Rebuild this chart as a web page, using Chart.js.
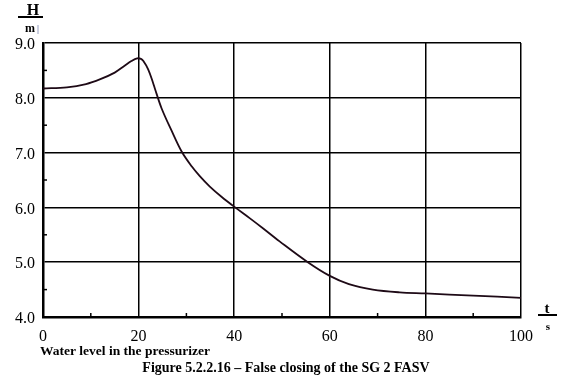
<!DOCTYPE html>
<html><head><meta charset="utf-8">
<script src="https://cdn.jsdelivr.net/npm/chart.js@4"></script>
<style>html,body{margin:0;padding:0;background:#fff;overflow:hidden}#wrap{width:573px;height:386px;position:relative}</style>
</head><body><div id="wrap"><canvas id="c" width="573" height="386"></canvas></div>
<script>
const timeS  = [0, 5, 9, 12, 15, 17, 18.5, 19.7, 20.5, 21, 22, 23, 23.4, 24.8, 26.9, 29, 31.1, 32.8, 34.9, 37.4, 40.2, 43.3, 46, 49.5, 55.4, 60, 64, 69, 74.6, 80, 90, 100];
const levelM = [8.17, 8.19, 8.25, 8.34, 8.46, 8.58, 8.67, 8.72, 8.71, 8.67, 8.52, 8.28, 8.17, 7.81, 7.40, 7.02, 6.75, 6.57, 6.38, 6.19, 6.0, 5.80, 5.62, 5.38, 5.0, 4.75, 4.6, 4.5, 4.45, 4.43, 4.39, 4.35];
const xTicks = [0, 20, 40, 60, 80, 100];
const yTicks = [4, 5, 6, 7, 8, 9];
const xMinor = [10, 30, 50, 70, 90];
const yMinor = [4.5, 5.5, 6.5, 7.5, 8.5];
const yLabel = 'H', yUnit = 'm', xLabel = 't', xUnit = 's';
const subTitle = 'Water level in the pressurizer';
const caption = 'Figure 5.2.2.16 \u2013 False closing of the SG 2 FASV';

const SERIF = '"Liberation Serif", "Times New Roman", serif';

const decor = {
  id: 'decor',
  afterDraw(chart) {
    const ctx = chart.ctx, xs = chart.scales.x, ys = chart.scales.y, a = chart.chartArea;
    ctx.save();
    ctx.strokeStyle = '#000'; ctx.lineWidth = 1.5;
    xMinor.forEach(v => { const px = xs.getPixelForValue(v); ctx.beginPath(); ctx.moveTo(px, a.bottom); ctx.lineTo(px, a.bottom - 4); ctx.stroke(); });
    yMinor.forEach(v => { const py = ys.getPixelForValue(v); ctx.beginPath(); ctx.moveTo(a.left, py); ctx.lineTo(a.left + 4, py); ctx.stroke(); });
    ctx.fillStyle = '#000';
    ctx.textAlign = 'center'; ctx.textBaseline = 'alphabetic';
    ctx.font = 'bold 16px ' + SERIF;
    ctx.fillText(yLabel, 33, 15);
    ctx.lineWidth = 2; ctx.beginPath(); ctx.moveTo(18, 17); ctx.lineTo(43, 17); ctx.stroke();
    ctx.font = 'bold 12px ' + SERIF;
    ctx.fillText(yUnit, 30, 32);
    ctx.fillStyle = '#3a4a8a';
    ctx.font = '10px ' + SERIF;
    ctx.fillText('|', 38, 32);
    ctx.fillStyle = '#000';
    ctx.font = 'bold 15px ' + SERIF;
    ctx.fillText(xLabel, 547, 313);
    ctx.beginPath(); ctx.moveTo(538, 315); ctx.lineTo(557, 315); ctx.stroke();
    ctx.font = 'bold 11px ' + SERIF;
    ctx.fillText(xUnit, 548, 330);
    ctx.textAlign = 'left';
    ctx.font = 'bold 13.5px ' + SERIF;
    ctx.fillText(subTitle, 40, 355);
    ctx.textAlign = 'center';
    ctx.font = 'bold 14px ' + SERIF;
    ctx.fillText(caption, 286, 372);
    ctx.restore();
  }
};

new Chart(document.getElementById('c'), {
  type: 'line',
  data: { datasets: [{
    data: timeS.map((t, i) => ({ x: t, y: levelM[i] })),
    borderColor: '#1e0a16', borderWidth: 1.8, pointRadius: 0, fill: false,
    tension: 0.35
  }]},
  options: {
    responsive: false, animation: false, devicePixelRatio: 1,
    layout: { padding: { left: 0, right: 52, top: 43, bottom: 0 } },
    plugins: { legend: { display: false }, tooltip: { enabled: false } },
    scales: {
      x: {
        type: 'linear', min: 0, max: 100,
        afterBuildTicks: s => { s.ticks = xTicks.map(v => ({ value: v })); },
        afterFit: s => { s.height = 69; },
        ticks: { color: '#000', font: { family: SERIF, size: 16 }, padding: 10, maxRotation: 0, callback: v => String(v) },
        grid: { color: '#000', lineWidth: 1.5, drawTicks: false },
        border: { color: '#000', width: 2.5 }
      },
      y: {
        type: 'linear', min: 4, max: 9,
        afterBuildTicks: s => { s.ticks = yTicks.map(v => ({ value: v })); },
        afterFit: s => { s.width = 43; },
        ticks: { color: '#000', font: { family: SERIF, size: 16 }, padding: 8, labelOffset: 2, callback: v => v.toFixed(1) },
        grid: { color: '#000', lineWidth: 1.5, drawTicks: false },
        border: { color: '#000', width: 2.5 }
      }
    }
  },
  plugins: [decor]
});
</script></body></html>
